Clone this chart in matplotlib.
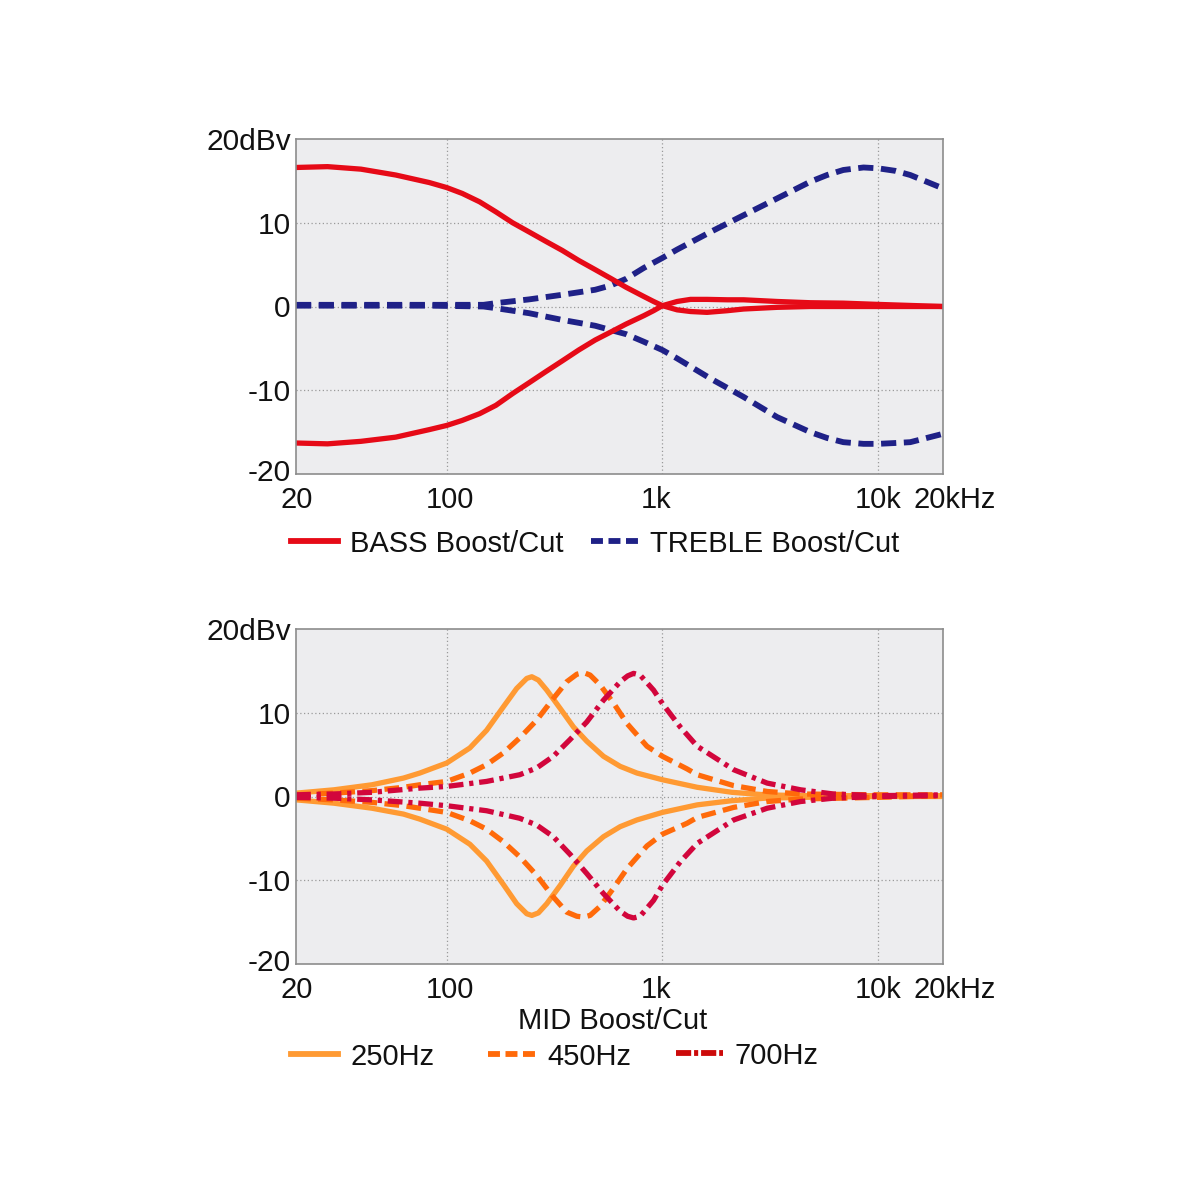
import numpy as np
import matplotlib
matplotlib.use("Agg")
import matplotlib.pyplot as plt
from matplotlib.lines import Line2D
import matplotlib.transforms as mtransforms

plt.rcParams['font.family'] = ['Liberation Sans', 'DejaVu Sans']

# ---- data (frequency in Hz, level in dBv) ----
bass_freq = [20, 28, 40, 58, 83, 100, 118, 142, 169, 202, 241, 287, 343, 409, 488,
             581, 678, 819, 910, 1000, 1170, 1350, 1610, 2000, 2380, 3400, 4850,
             6900, 10000, 20000]
bass_boost = [16.6, 16.7, 16.4, 15.7, 14.8, 14.2, 13.5, 12.5, 11.3, 10.0, 8.9, 7.8,
              6.7, 5.5, 4.4, 3.3, 2.3, 1.2, 0.6, 0.1, -0.4, -0.6, -0.7, -0.5, -0.3,
              -0.1, 0.0, 0.0, 0.0, 0.0]
bass_cut = [-16.3, -16.4, -16.1, -15.6, -14.7, -14.2, -13.6, -12.8, -11.8, -10.4,
            -9.1, -7.8, -6.5, -5.2, -4.0, -3.0, -2.1, -1.1, -0.5, 0.1, 0.6, 0.85,
            0.85, 0.8, 0.8, 0.6, 0.45, 0.4, 0.25, 0.0]

treble_freq = [20, 40, 83, 148, 169, 241, 343, 488, 574, 678, 819, 1000, 1170, 1670,
               2380, 3400, 4850, 5800, 6900, 8560, 10000, 12000, 14100, 20000]
treble_boost = [0.2, 0.2, 0.2, 0.2, 0.4, 0.85, 1.4, 2.0, 2.5, 3.3, 4.6, 5.8, 6.8,
                8.9, 10.9, 12.9, 14.9, 15.7, 16.3, 16.6, 16.5, 16.2, 15.7, 14.1]
treble_cut = [0.1, 0.1, 0.1, 0.0, -0.2, -0.8, -1.6, -2.3, -2.8, -3.3, -4.2, -5.2,
              -6.2, -8.6, -10.8, -13.2, -15.0, -15.7, -16.2, -16.4, -16.4, -16.3,
              -16.2, -15.2]

mid250_freq = [20, 30, 45, 63, 75, 100, 128, 153, 183, 211, 235, 248, 266, 291, 336,
               387, 446, 533, 637, 762, 1000, 1450, 2100, 3000, 4400, 10000, 20000]
mid250_boost = [0.4, 0.8, 1.4, 2.2, 2.8, 4.0, 5.8, 7.9, 10.7, 12.9, 14.1, 14.3, 13.9,
                12.7, 10.5, 8.3, 6.6, 4.8, 3.6, 2.8, 2.0, 1.1, 0.5, 0.2, 0.1, 0.1, 0.1]
mid250_cut = [-0.4, -0.8, -1.4, -2.1, -2.7, -3.9, -5.7, -7.7, -10.5, -12.8, -14.0,
              -14.2, -13.9, -12.8, -10.6, -8.3, -6.5, -4.8, -3.6, -2.8, -1.9, -1.0,
              -0.5, -0.2, -0.1, 0.0, 0.0]

mid450_freq = [20, 30, 45, 63, 75, 100, 128, 153, 183, 218, 261, 312, 360, 401, 431,
               462, 515, 595, 686, 848, 1000, 1300, 1450, 2140, 3060, 4370, 10000, 20000]
mid450_boost = [0.2, 0.4, 0.7, 1.1, 1.4, 1.8, 2.8, 3.8, 5.2, 7.0, 9.1, 11.7, 13.7,
                14.6, 14.8, 14.5, 13.3, 11.1, 8.7, 6.0, 4.8, 3.3, 2.6, 1.3, 0.6, 0.3,
                0.2, 0.2]
mid450_cut = [-0.2, -0.4, -0.7, -1.1, -1.4, -1.9, -2.9, -3.9, -5.4, -7.2, -9.4, -12.0,
              -13.8, -14.3, -14.4, -14.2, -13.1, -10.9, -8.6, -5.9, -4.5, -3.2, -2.5,
              -1.3, -0.6, -0.3, -0.1, 0.1]

mid700_freq = [20, 30, 45, 75, 100, 153, 218, 261, 312, 373, 446, 533, 637, 690, 735,
               788, 910, 1000, 1210, 1450, 2140, 3060, 4370, 6200, 10000, 20000]
mid700_boost = [0.2, 0.3, 0.5, 1.0, 1.2, 1.8, 2.6, 3.4, 4.8, 6.8, 8.9, 11.5, 13.7,
                14.4, 14.7, 14.5, 12.7, 11.1, 8.3, 6.0, 3.2, 1.6, 0.8, 0.3, 0.1, 0.2]
mid700_cut = [-0.1, -0.2, -0.4, -0.8, -1.1, -1.7, -2.6, -3.4, -4.8, -6.9, -9.2, -11.6,
              -13.7, -14.3, -14.5, -14.3, -12.4, -10.6, -7.8, -5.6, -2.8, -1.4, -0.6,
              -0.2, 0.0, 0.1]

x_ticks = [20, 100, 1000, 10000, 20000]
x_labels = ['20', '100', '1k', '10k', '20kHz']
y_ticks = [20, 10, 0, -10, -20]
y_labels = ['20dBv', '10', '0', '-10', '-20']

# ---- styles ----
RED = '#E60A17'
NAVY = '#1F2187'
C250 = '#FF9A33'
C450 = '#FF6A0A'
C700 = '#D2063C'
LW = 3.8
dash_tr = (0, (2.6, 1.3))
dash_450 = (0, (2.8, 1.4))
dashdot_700 = (0, (2.8, 1.1, 0.8, 1.1))
leg_dash = (0, (2.05, 0.95))
leg_dashdot = (0, (2.6, 0.5, 0.7, 0.5))

fig = plt.figure(figsize=(12, 12), dpi=100)
W = H = 1200.0


def make_axes(top_px, bottom_px):
    ax = fig.add_axes([296 / W, 1 - bottom_px / H, (943 - 296) / W, (bottom_px - top_px) / H])
    ax.set_facecolor('#EDEDEF')
    ax.set_xscale('log')
    ax.set_xlim(20, 20000)
    ax.set_ylim(-20, 20)
    ax.set_xticks([100, 1000, 10000])
    ax.set_yticks([-10, 0, 10])
    ax.minorticks_off()
    ax.tick_params(length=0, labelbottom=False, labelleft=False)
    ax.grid(True, color='#9A9A9A', linestyle=(0, (1, 2)), linewidth=0.9)
    for s in ax.spines.values():
        s.set_color('#8C8C8C')
        s.set_linewidth(1.2)
    # x labels
    trans = mtransforms.blended_transform_factory(ax.transData, ax.transAxes)
    xoff = {'1k': -6, '20kHz': 12, '20': 1, '100': 3}
    for t, lab in zip(x_ticks, x_labels):
        off = mtransforms.ScaledTranslation(xoff.get(lab, 0) / 100, 0, fig.dpi_scale_trans)
        ax.text(t, -0.078, lab, transform=trans + off, ha='center', va='center',
                fontsize=21, color='#111111')
    # y labels
    ytrans = mtransforms.blended_transform_factory(ax.transAxes, ax.transData)
    for t, lab in zip(y_ticks, y_labels):
        yy = t - 0.35 if t != -20 else t + 0.1
        ax.text(-0.008, yy, lab, transform=ytrans, ha='right', va='center',
                fontsize=21.5, color='#111111')
    return ax


def legend_item(x0, y, color, ls, lw, text):
    fig.add_artist(Line2D([x0 / W, (x0 + 47) / W], [1 - y / H, 1 - y / H],
                          color=color, linestyle=ls, linewidth=lw,
                          transform=fig.transFigure))
    fig.text((x0 + 59) / W, 1 - (y + 3) / H, text, ha='left', va='center',
             fontsize=21, color='#111111')


# ---- top: bass / treble ----
ax1 = make_axes(139, 474)
ax1.plot(treble_freq, treble_boost, color=NAVY, lw=LW + 0.4, linestyle=dash_tr)
ax1.plot(treble_freq, treble_cut, color=NAVY, lw=LW + 0.4, linestyle=dash_tr)
ax1.plot(bass_freq, bass_boost, color=RED, lw=LW, solid_capstyle='butt')
ax1.plot(bass_freq, bass_cut, color=RED, lw=LW, solid_capstyle='butt')

legend_item(291, 541, RED, '-', LW + 0.4, 'BASS Boost/Cut')
legend_item(591, 541, NAVY, leg_dash, LW + 0.4, 'TREBLE Boost/Cut')

# ---- bottom: mid ----
ax2 = make_axes(629, 964)
ax2.plot(mid250_freq, mid250_boost, color=C250, lw=LW)
ax2.plot(mid250_freq, mid250_cut, color=C250, lw=LW)
ax2.plot(mid450_freq, mid450_boost, color=C450, lw=LW, linestyle=dash_450)
ax2.plot(mid450_freq, mid450_cut, color=C450, lw=LW, linestyle=dash_450)
ax2.plot(mid700_freq, mid700_boost, color=C700, lw=LW, linestyle=dashdot_700)
ax2.plot(mid700_freq, mid700_cut, color=C700, lw=LW, linestyle=dashdot_700)

fig.text(613 / W, 1 - 1021 / H, 'MID Boost/Cut', ha='center', va='center',
         fontsize=21, color='#111111')
legend_item(291, 1054, C250, '-', LW + 0.4, '250Hz')
legend_item(488, 1054, C450, leg_dash, LW + 0.4, '450Hz')
legend_item(676, 1053, '#CC0A0A', leg_dashdot, LW + 0.4, '700Hz')

fig.savefig('out.png', dpi=100, facecolor='white')
